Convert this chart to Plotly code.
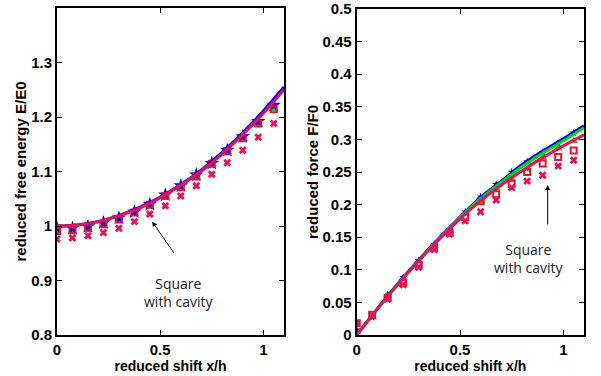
import plotly.graph_objects as go

# ---------------- data ----------------
x_pts = [0, 0.075, 0.15, 0.225, 0.3, 0.375, 0.45, 0.525, 0.6, 0.675, 0.75, 0.825, 0.9, 0.975, 1.05]
x_line = [0, 0.1, 0.2, 0.3, 0.4, 0.5, 0.6, 0.7, 0.8, 0.9, 1.0, 1.1]

# left panel: reduced free energy E/E0
E_line_blue = [1.000, 1.002, 1.008, 1.019, 1.034, 1.053, 1.076, 1.103, 1.135, 1.171, 1.211, 1.255]
E_line_red = [1.000, 1.002, 1.008, 1.019, 1.033, 1.052, 1.075, 1.101, 1.132, 1.168, 1.207, 1.250]
E_star = [0.996, 0.996, 0.999, 1.006, 1.015, 1.026, 1.040, 1.057, 1.074, 1.094, 1.115, 1.139, 1.164, 1.192, 1.222]
E_tri = [0.990, 0.990, 0.993, 1.000, 1.010, 1.022, 1.036, 1.053, 1.070, 1.090, 1.111, 1.135, 1.160, 1.187, 1.214]
E_sq = [0.991, 0.992, 0.997, 1.003, 1.012, 1.025, 1.039, 1.055, 1.071, 1.091, 1.114, 1.137, 1.161, 1.188, 1.214]
E_ast = [0.976, 0.978, 0.982, 0.988, 0.996, 1.008, 1.022, 1.037, 1.055, 1.074, 1.095, 1.116, 1.139, 1.163, 1.188]

# right panel: reduced force F/F0
F_line_blue = [0, 0.040, 0.079, 0.115, 0.149, 0.181, 0.211, 0.236, 0.261, 0.282, 0.301, 0.321]
F_line_green = [0, 0.040, 0.078, 0.114, 0.148, 0.180, 0.209, 0.234, 0.258, 0.279, 0.298, 0.318]
F_line_red = [0, 0.040, 0.078, 0.114, 0.147, 0.178, 0.206, 0.230, 0.252, 0.272, 0.290, 0.307]
F_star = [0.008, 0.027, 0.061, 0.088, 0.114, 0.139, 0.162, 0.189, 0.212, 0.231, 0.250, 0.266, 0.280, 0.294, 0.310]
F_tri = [0.005, 0.027, 0.062, 0.087, 0.113, 0.137, 0.160, 0.186, 0.205, 0.225, 0.239, 0.254, 0.272, 0.286, 0.297]
F_sq = [0.018, 0.031, 0.057, 0.080, 0.107, 0.134, 0.157, 0.181, 0.205, 0.216, 0.232, 0.250, 0.263, 0.273, 0.283]
F_ast = [0.018, 0.030, 0.055, 0.077, 0.104, 0.131, 0.155, 0.175, 0.189, 0.207, 0.226, 0.236, 0.245, 0.259, 0.268]

x_ticks = [0, 0.5, 1]
x_labels = ["0", "0.5", "1"]
E_ticks = [0.8, 0.9, 1.0, 1.1, 1.2, 1.3]
E_labels = ["0.8", "0.9", "1", "1.1", "1.2", "1.3"]
F_ticks = [0, 0.05, 0.1, 0.15, 0.2, 0.25, 0.3, 0.35, 0.4, 0.45, 0.5]
F_labels = ["0", "0.05", "0.1", "0.15", "0.2", "0.25", "0.3", "0.35", "0.4", "0.45", "0.5"]

BLUE = "#0000F0"
GREEN = "#00D800"
RED_SQ = "#E8102E"
CRIMSON = "#E3125A"

FAM = "Liberation Sans"

fig = go.Figure()


def add_markers(xa, ya, star, tri, sq, ast, star_size):
    fig.add_trace(go.Scatter(x=x_pts, y=tri, mode="markers", xaxis=xa, yaxis=ya,
                             marker=dict(symbol="triangle-up", size=8, color=GREEN), showlegend=False))
    fig.add_trace(go.Scatter(x=x_pts, y=star, mode="markers", xaxis=xa, yaxis=ya,
                             marker=dict(symbol="star", size=star_size, color=BLUE), showlegend=False))
    fig.add_trace(go.Scatter(x=x_pts, y=sq, mode="markers", xaxis=xa, yaxis=ya,
                             marker=dict(symbol="square-open", size=6, color=RED_SQ,
                                         line=dict(width=2, color=RED_SQ)), showlegend=False))
    fig.add_trace(go.Scatter(x=x_pts, y=ast, mode="markers", xaxis=xa, yaxis=ya,
                             marker=dict(symbol="x", size=7, color=CRIMSON, line=dict(width=0)),
                             showlegend=False))


add_markers("x", "y", E_star, E_tri, E_sq, E_ast, 11)
fig.add_trace(go.Scatter(x=x_line, y=E_line_blue, mode="lines", line=dict(color=BLUE, width=3, shape="spline"),
                         xaxis="x", yaxis="y", showlegend=False))
fig.add_trace(go.Scatter(x=x_line, y=E_line_red, mode="lines", line=dict(color=CRIMSON, width=3, shape="spline"),
                         xaxis="x", yaxis="y", showlegend=False))

add_markers("x2", "y2", F_star, F_tri, F_sq, F_ast, 6)
fig.add_trace(go.Scatter(x=x_line, y=F_line_blue, mode="lines", line=dict(color=BLUE, width=3, shape="spline"),
                         xaxis="x2", yaxis="y2", showlegend=False))
fig.add_trace(go.Scatter(x=x_line, y=F_line_green, mode="lines", line=dict(color=GREEN, width=3, shape="spline"),
                         xaxis="x2", yaxis="y2", showlegend=False))
fig.add_trace(go.Scatter(x=x_line, y=F_line_red, mode="lines", line=dict(color=CRIMSON, width=3, shape="spline"),
                         xaxis="x2", yaxis="y2", showlegend=False))


def bold(lst):
    return ["<b>%s</b>" % s for s in lst]


def ax_common():
    return dict(showline=True, linecolor="black", linewidth=2, mirror="ticks",
                ticks="inside", ticklen=5, tickwidth=1, tickcolor="black",
                showgrid=False, zeroline=False, automargin=False,
                tickfont=dict(family=FAM, size=15, color="black"))


fig.update_layout(
    width=601, height=376,
    margin=dict(l=0, r=0, t=0, b=0),
    paper_bgcolor="white", plot_bgcolor="white",
    xaxis=dict(domain=[57 / 601, 284 / 601], range=[0, 1.1], tickvals=x_ticks, ticktext=bold(x_labels),
               title=dict(text="<b>reduced shift x/h</b>", standoff=0,
                          font=dict(family=FAM, size=14, color="black")),
               anchor="y", **ax_common()),
    yaxis=dict(domain=[41 / 376, 368 / 376], range=[0.8, 1.4], tickvals=E_ticks, ticktext=bold(E_labels),
               title=dict(text="<b>reduced free energy E/E0</b>", standoff=1,
                          font=dict(family=FAM, size=15, color="black")),
               anchor="x", **ax_common()),
    xaxis2=dict(domain=[356.7 / 601, 584 / 601], range=[0, 1.1], tickvals=x_ticks, ticktext=bold(x_labels),
                title=dict(text="<b>reduced shift x/h</b>", standoff=0,
                           font=dict(family=FAM, size=14, color="black")),
                anchor="y2", **ax_common()),
    yaxis2=dict(domain=[41 / 376, 367 / 376], range=[0, 0.5], tickvals=F_ticks, ticktext=bold(F_labels),
                title=dict(text="<b>reduced force F/F0</b>", standoff=0,
                           font=dict(family=FAM, size=15, color="black")),
                anchor="x2", **ax_common()),
)

note_font = dict(family="Open Sans", size=14, color="#222222")
fig.add_annotation(x=0.461, y=1.008, xref="x", yref="y", ax=23, ay=33, text="", showarrow=True,
                   arrowhead=2, arrowsize=1, arrowwidth=1, arrowcolor="black")
fig.add_annotation(x=0.592, y=0.878, xref="x", yref="y", text="Square<br>with cavity", showarrow=False,
                   font=note_font, align="center")
fig.add_annotation(x=0.924, y=0.230, xref="x2", yref="y2", ax=0, ay=41, text="", showarrow=True,
                   arrowhead=2, arrowsize=1, arrowwidth=1, arrowcolor="black")
fig.add_annotation(x=0.8335, y=0.118, xref="x2", yref="y2", text="Square<br>with cavity", showarrow=False,
                   font=note_font, align="center")

fig.write_html("out.html", config={"displayModeBar": False},
               post_script="document.body.style.margin='0';")
